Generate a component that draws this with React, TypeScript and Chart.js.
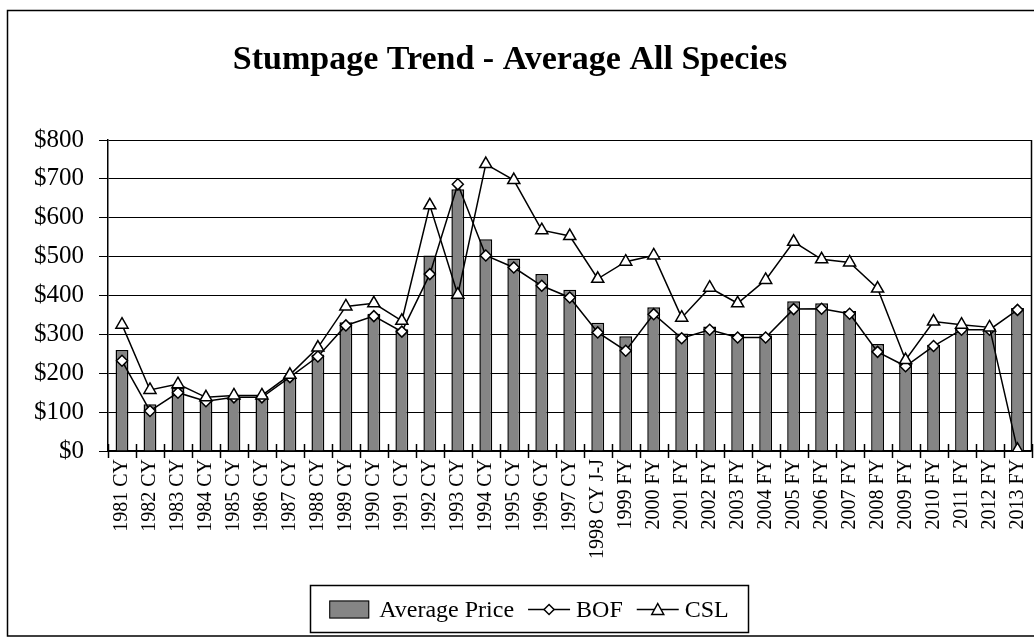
import React, { useEffect, useRef } from "react";
import { Chart, registerables } from "chart.js";

Chart.register(...registerables);

const categories = [
  "1981 CY", "1982 CY", "1983 CY", "1984 CY", "1985 CY", "1986 CY", "1987 CY", "1988 CY",
  "1989 CY", "1990 CY", "1991 CY", "1992 CY", "1993 CY", "1994 CY", "1995 CY", "1996 CY",
  "1997 CY", "1998 CY J-J", "1999 FY", "2000 FY", "2001 FY", "2002 FY", "2003 FY", "2004 FY",
  "2005 FY", "2006 FY", "2007 FY", "2008 FY", "2009 FY", "2010 FY", "2011 FY", "2012 FY", "2013 FY",
];

const averagePrice = [
  260, 120, 162, 130, 137, 137, 190, 248, 331, 353, 313, 503, 673, 545, 495, 455,
  415, 330, 295, 370, 302, 320, 300, 298, 385, 380, 360, 275, 226, 273, 318, 315, 368,
];

const bof = [
  232, 103, 150, 128, 138, 138, 190, 243, 323, 347, 307, 455, 686, 503, 472, 425,
  395, 305, 258, 352, 290, 312, 292, 292, 365, 366, 353, 255, 218, 270, 312, 312, 363,
];

const csl = [
  325, 157, 172, 138, 143, 143, 196, 266, 372, 380, 335, 632, 402, 738, 697, 568,
  553, 443, 487, 503, 343, 420, 380, 440, 538, 493, 485, 418, 234, 333, 325, 318, 3,
];

const yTicks = [0, 100, 200, 300, 400, 500, 600, 700, 800];

const titleText = "Stumpage Trend - Average All Species";
const legendNames = ["Average Price", "BOF", "CSL"];

const FONT = "'Liberation Serif', 'Times New Roman', serif";
const BAR_FILL = "#858585";
const CANVAS_W = 1040;

const decorPlugin = {
  id: "decor",
  afterDatasetsDraw(chart: any) {
    const ctx = chart.ctx;
    const a = chart.chartArea;
    ctx.save();
    ctx.strokeStyle = "#000";
    const n = categories.length;
    const w = (a.right - a.left) / n;
    ctx.lineWidth = 1.5;
    for (let i = 0; i <= n; i++) {
      const x = Math.round(a.left + i * w) + 0.5;
      ctx.beginPath();
      ctx.moveTo(x, a.bottom - 7);
      ctx.lineTo(x, a.bottom + 7);
      ctx.stroke();
    }
    ctx.beginPath();
    ctx.moveTo(a.right, a.top);
    ctx.lineTo(a.right, a.bottom);
    ctx.stroke();
    ctx.restore();
  },
  afterDraw(chart: any) {
    const ctx = chart.ctx;
    ctx.save();
    ctx.strokeStyle = "#000";
    ctx.lineWidth = 1.5;
    ctx.beginPath();
    ctx.moveTo(1034, 10.5);
    ctx.lineTo(7.5, 10.5);
    ctx.lineTo(7.5, 636);
    ctx.lineTo(1034, 636);
    ctx.stroke();

    ctx.fillStyle = "#000";
    ctx.font = "bold 34px " + FONT;
    ctx.textAlign = "center";
    ctx.textBaseline = "middle";
    ctx.fillText(titleText, 510, 60);

    const bx = 310, by = 585, bw = 438, bh = 47;
    ctx.fillStyle = "#fff";
    ctx.fillRect(bx, by, bw, bh);
    ctx.lineWidth = 1.5;
    ctx.strokeRect(bx + 0.5, by + 0.5, bw, bh);
    ctx.font = "24px " + FONT;
    ctx.textAlign = "left";
    const cy = by + bh / 2 + 1;
    const wText = legendNames.map((t) => ctx.measureText(t).width);
    const sw = 40, lineLen = 42;
    const total = sw + 10 + wText[0] + 14 + lineLen + 6 + wText[1] + 14 + lineLen + 6 + wText[2];
    let x = bx + (bw - total) / 2;
    ctx.fillStyle = BAR_FILL;
    ctx.fillRect(x, cy - 9, sw, 18);
    ctx.strokeStyle = "#000";
    ctx.lineWidth = 1;
    ctx.strokeRect(x + 0.5, cy - 8.5, sw - 1, 17);
    x += sw + 10;
    ctx.fillStyle = "#000";
    ctx.fillText(legendNames[0], x, cy + 1);
    x += wText[0] + 14;
    ctx.lineWidth = 1.5;
    ctx.beginPath();
    ctx.moveTo(x, cy);
    ctx.lineTo(x + lineLen, cy);
    ctx.stroke();
    const dx = x + lineLen / 2;
    ctx.beginPath();
    ctx.moveTo(dx, cy - 5);
    ctx.lineTo(dx + 5, cy);
    ctx.lineTo(dx, cy + 5);
    ctx.lineTo(dx - 5, cy);
    ctx.closePath();
    ctx.fillStyle = "#fff";
    ctx.fill();
    ctx.stroke();
    x += lineLen + 6;
    ctx.fillStyle = "#000";
    ctx.fillText(legendNames[1], x, cy + 1);
    x += wText[1] + 14;
    ctx.beginPath();
    ctx.moveTo(x, cy);
    ctx.lineTo(x + lineLen, cy);
    ctx.stroke();
    const tx = x + lineLen / 2;
    ctx.beginPath();
    ctx.moveTo(tx, cy - 6);
    ctx.lineTo(tx + 6, cy + 5);
    ctx.lineTo(tx - 6, cy + 5);
    ctx.closePath();
    ctx.fillStyle = "#fff";
    ctx.fill();
    ctx.stroke();
    x += lineLen + 6;
    ctx.fillStyle = "#000";
    ctx.fillText(legendNames[2], x, cy + 1);
    ctx.restore();
  },
};

export default function App() {
  const ref = useRef<HTMLCanvasElement | null>(null);

  useEffect(() => {
    if (!ref.current) return;
    const chart = new Chart(ref.current, {
      type: "bar",
      data: {
        labels: categories,
        datasets: [
          {
            type: "line",
            label: legendNames[1],
            data: bof,
            borderColor: "#000",
            borderWidth: 1.5,
            pointStyle: "rectRot",
            pointRadius: 5.5,
            pointBackgroundColor: "#fff",
            pointBorderColor: "#000",
            pointBorderWidth: 1.5,
            tension: 0,
            order: 2,
          },
          {
            type: "line",
            label: legendNames[2],
            data: csl,
            borderColor: "#000",
            borderWidth: 1.5,
            pointStyle: "triangle",
            pointRadius: 7,
            pointBackgroundColor: "#fff",
            pointBorderColor: "#000",
            pointBorderWidth: 1.5,
            tension: 0,
            order: 1,
          },
          {
            type: "bar",
            label: legendNames[0],
            data: averagePrice,
            backgroundColor: BAR_FILL,
            borderColor: "#000",
            borderWidth: 1.5,
            categoryPercentage: 1,
            barPercentage: 0.46,
            order: 3,
          },
        ],
      } as any,
      options: {
        responsive: false,
        animation: false,
        layout: { padding: { top: 140, left: 0, right: 0, bottom: 0 } },
        plugins: {
          legend: { display: false },
          title: { display: false },
          tooltip: { enabled: false },
        },
        scales: {
          x: {
            offset: true,
            grid: { display: false, drawTicks: false },
            border: { display: true, color: "#000", width: 1.5 },
            ticks: {
              autoSkip: false,
              maxRotation: 90,
              minRotation: 90,
              padding: 8,
              color: "#000",
              font: { family: FONT, size: 20 },
            },
            afterFit(scale: any) {
              scale.height = 186;
              scale.paddingLeft = 0;
              scale.paddingRight = 0;
            },
          },
          y: {
            min: 0,
            max: 800,
            afterBuildTicks(scale: any) {
              scale.ticks = yTicks.map((v) => ({ value: v }));
            },
            grid: { color: "#000", lineWidth: 1, tickLength: 9, drawTicks: true },
            border: { display: true, color: "#000", width: 1.5 },
            ticks: {
              padding: 15,
              color: "#000",
              font: { family: FONT, size: 25 },
              callback: (v: any) => "$" + v,
            },
            afterFit(scale: any) {
              scale.width = 108;
            },
          },
        },
      } as any,
      plugins: [decorPlugin],
    });
    return () => chart.destroy();
  }, []);

  return (
    <div style={{ position: "fixed", left: 0, top: 0, width: 1034, height: 637, background: "#fff", overflow: "hidden" }}>
      <canvas ref={ref} width={CANVAS_W} height={637} style={{ width: CANVAS_W, height: 637, display: "block" }} />
    </div>
  );
}
